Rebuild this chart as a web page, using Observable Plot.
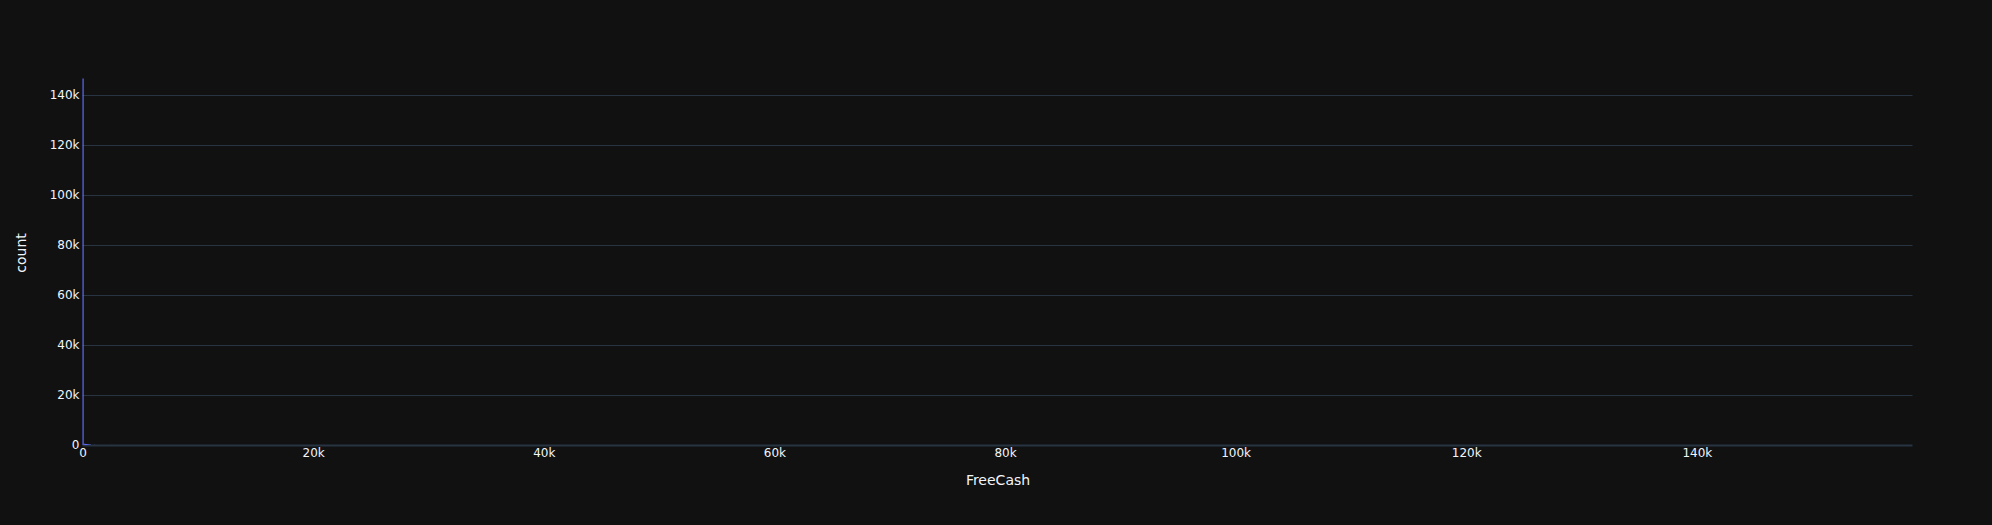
<!DOCTYPE html>
<html>
<head>
<meta charset="utf-8">
<script src="https://cdn.jsdelivr.net/npm/d3@7"></script>
<script src="https://cdn.jsdelivr.net/npm/@observablehq/plot@0.6"></script>
<style>
  html, body { margin: 0; padding: 0; background: #111111; overflow: hidden; }
  #chart { width: 1992px; height: 525px; }
  #chart svg { display: block; }
</style>
</head>
<body>
<div id="chart"></div>
<script>
// Histogram of FreeCash (bin width and counts)
const binWidth = 100;
const binStarts = [0, 100, 200, 300, 400, 500, 600, 1000, 2500, 5000, 12000, 30000, 75000, 158600];
const binCounts = [146600, 520, 430, 380, 330, 290, 250, 60, 25, 12, 5, 2, 1, 1];
const xTicks = [0, 20000, 40000, 60000, 80000, 100000, 120000, 140000];
const yTicks = [0, 20000, 40000, 60000, 80000, 100000, 120000, 140000];
const xDomain = [0, 158700];
const yDomain = [0, 154000];

const bins = binStarts.map((s, i) => ({x1: s, x2: s + binWidth, count: binCounts[i]}));
const fmt = d3.format("~s");

const chart = Plot.plot({
  width: 1992,
  height: 525,
  marginLeft: 82.5,
  marginRight: 79.5,
  marginTop: 60,
  marginBottom: 80,
  style: {background: "#111111", color: "#f2f5fa", fontFamily: "'DejaVu Sans', Verdana, sans-serif", fontSize: "12px"},
  x: {domain: xDomain, type: "linear"},
  y: {domain: yDomain, type: "linear"},
  marks: [
    Plot.gridY(yTicks.filter(d => d > 0), {stroke: "#283442", strokeOpacity: 1, strokeWidth: 1}),
    Plot.ruleY([0], {stroke: "#283442", strokeWidth: 2}),
    Plot.rectY(bins, {x1: "x1", x2: "x2", y: "count", fill: "#636efa", inset: 0}),
    Plot.axisY(yTicks, {tickSize: 0, tickPadding: 3.5, tickFormat: fmt, label: null, fill: "#f2f5fa", fontSize: 12}),
    Plot.axisX(xTicks, {tickSize: 0, tickPadding: 3, tickFormat: fmt, label: null, fill: "#f2f5fa", fontSize: 12}),
    Plot.text(["count"], {frameAnchor: "left", dx: -61.5, rotate: -90, textAnchor: "middle", lineAnchor: "middle", text: d => d, fill: "#f2f5fa", fontSize: 14}),
    Plot.text(["FreeCash"], {frameAnchor: "bottom", dy: 35, textAnchor: "middle", lineAnchor: "middle", text: d => d, fill: "#f2f5fa", fontSize: 14})
  ]
});
document.getElementById("chart").appendChild(chart);
</script>
</body>
</html>
